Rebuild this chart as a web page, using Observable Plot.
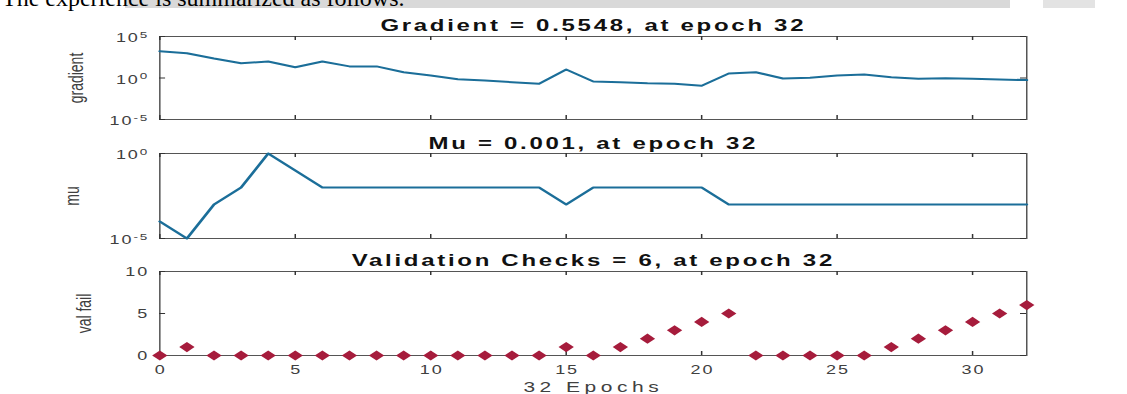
<!DOCTYPE html>
<html>
<head>
<meta charset="utf-8">
<script src="https://cdn.jsdelivr.net/npm/d3@7"></script>
<script src="https://cdn.jsdelivr.net/npm/@observablehq/plot@0.6"></script>
<style>
  body { margin: 0; background: #fff; }
  #page { position: relative; width: 1127px; height: 394px; overflow: hidden; background: #fff; }
  #lead { position: absolute; left: 0; top: 0; }
  .panel { position: absolute; left: 0; width: 751px; transform-origin: 0 0; }
  .panel svg { background: transparent !important; overflow: visible; }
</style>
</head>
<body>
<div id="page">
  <svg id="lead" width="1127" height="12"></svg>
  <div class="panel" id="p1" style="top:0px"></div>
  <div class="panel" id="p2" style="top:128px"></div>
  <div class="panel" id="p3" style="top:246px"></div>
</div>
<script>
// Training record: one entry per epoch
const epochs   = [0,1,2,3,4,5,6,7,8,9,10,11,12,13,14,15,16,17,18,19,20,21,22,23,24,25,26,27,28,29,30,31,32];
const gradient = [1700,980,224,60,98,20,98,25,25,5.0,2.0,0.72,0.50,0.31,0.20,10.5,0.38,0.31,0.23,0.20,0.115,3.5,5.0,0.87,1.05,2.0,2.6,1.26,0.80,0.95,0.80,0.66,0.5548];
const mu       = [1e-4,1e-5,1e-3,1e-2,1,1e-1,1e-2,1e-2,1e-2,1e-2,1e-2,1e-2,1e-2,1e-2,1e-2,1e-3,1e-2,1e-2,1e-2,1e-2,1e-2,1e-3,1e-3,1e-3,1e-3,1e-3,1e-3,1e-3,1e-3,1e-3,1e-3,1e-3,1e-3];
const valFail  = [0,1,0,0,0,0,0,0,0,0,0,0,0,0,0,1,0,1,2,3,4,5,0,0,0,0,0,1,2,3,4,5,6];

// Axis ticks
const xTicks    = [0,5,10,15,20,25,30];
const gradTicks = [1e-5,1e0,1e5];
const muTicks   = [1e-5,1e0];
const failTicks = [0,5,10];

// Texts
const last = epochs.length - 1;
const gradTitle = `Gradient = ${gradient[last]}, at epoch ${epochs[last]}`;
const muTitle   = `Mu = ${mu[last]}, at epoch ${epochs[last]}`;
const failTitle = `Validation Checks = ${valFail[last]}, at epoch ${epochs[last]}`;
const xLabel    = `${epochs[last]} Epochs`;
const gradLabel = "gradient";
const muLabel   = "mu";
const failLabel = "val fail";
const leadText  = "The experience is summarized as follows.";

const rows = epochs.map((e, i) => ({epoch: e, gradient: gradient[i], mu: mu[i], fail: valFail[i]}));

// Page text line above the figure
const lead = d3.select("#lead");
lead.append("rect").attr("x", 125).attr("y", 0).attr("width", 885).attr("height", 8).attr("fill", "#d9d9d9");
lead.append("rect").attr("x", 1043).attr("y", 0).attr("width", 52).attr("height", 8).attr("fill", "#e3e3e3");
lead.append("text").attr("x", 2).attr("y", 6)
  .attr("font-family", "'Liberation Serif', serif").attr("font-size", 24).attr("fill", "#000")
  .text(leadText);

// The figure is drawn narrow and widened horizontally
const W = 751, S = 1127 / W;
const ML = 106, MR = 67.3;
const innerW = W - ML - MR;
const lineColor = "#1b6e99";
const dotColor = "#a61c3c";
const inkColor = "#404040";
const tickLen = 4;

function boxTicks(innerH, yTicks) {
  return [
    Plot.ruleX(xTicks, {x: d => d, insetBottom: innerH - tickLen, stroke: "#333"}),
    Plot.ruleX(xTicks, {x: d => d, insetTop: innerH - tickLen, stroke: "#333"}),
    Plot.ruleY(yTicks, {y: d => d, insetRight: innerW - tickLen, stroke: "#333"}),
    Plot.ruleY(yTicks, {y: d => d, insetLeft: innerW - tickLen, stroke: "#333"})
  ];
}

function title(t, dy) {
  return Plot.text([t], {text: d => d, frameAnchor: "top", dy, lineAnchor: "bottom",
    fontWeight: "bold", fontSize: 16, fill: "#111"});
}

function yLabel(t, dx) {
  return Plot.text([t], {text: d => d, frameAnchor: "left", dx, rotate: -90,
    lineAnchor: "bottom", textAnchor: "middle", fontSize: 14, fill: inkColor});
}

function logAxis(ticks, dy) {
  return Plot.axisY(ticks, {tickSize: 0, tickPadding: 7, fontSize: 12, fill: inkColor, dy,
    label: null, tickFormat: d => String(Math.round(Math.log10(d))).replace("−", "-")});
}

function mount(id, svg, spacing) {
  const s = d3.select(svg);
  s.style("font-family", "'Liberation Sans', Arial, sans-serif");
  s.selectAll("text").style("letter-spacing", "1.3px");
  for (const [t, px] of spacing) {
    s.selectAll("text").filter(function() { return this.textContent === t; }).style("letter-spacing", px + "px");
  }
  const host = document.getElementById(id);
  host.style.transform = `scaleX(${S})`;
  host.appendChild(svg);
}

function powerLabels(svg) {
  d3.select(svg).selectAll('[aria-label="y-axis tick label"] text').each(function() {
    const e = this.textContent;
    this.textContent = "10";
    d3.select(this).append("tspan").attr("dy", "-0.5em").attr("font-size", "9px").text(e);
  });
}

// Gradient panel: frame spans y 36..119 on the page
{
  const height = 130, mt = 36, mb = 11;
  const svg = Plot.plot({
    width: W, height, marginLeft: ML, marginRight: MR, marginTop: mt, marginBottom: mb,
    x: {domain: [0, 32], axis: null},
    y: {type: "log", domain: [1e-5, 1e5], axis: null},
    marks: [
      Plot.frame({stroke: "#555"}),
      ...boxTicks(height - mt - mb, gradTicks),
      Plot.line(rows, {x: "epoch", y: "gradient", stroke: lineColor, strokeWidth: 2}),
      logAxis(gradTicks, 2),
      title(gradTitle, -6),
      yLabel(gradLabel, -51)
    ]
  });
  powerLabels(svg);
  mount("p1", svg, [[gradTitle, 1.8], [gradLabel, 0]]);
}

// Mu panel: frame spans y 153..238 on the page
{
  const height = 120, mt = 25, mb = 10;
  const svg = Plot.plot({
    width: W, height, marginLeft: ML, marginRight: MR, marginTop: mt, marginBottom: mb,
    x: {domain: [0, 32], axis: null},
    y: {type: "log", domain: [1e-5, 1e0], axis: null},
    marks: [
      Plot.frame({stroke: "#555"}),
      ...boxTicks(height - mt - mb, muTicks),
      Plot.line(rows, {x: "epoch", y: "mu", stroke: lineColor, strokeWidth: 2}),
      logAxis(muTicks, 2),
      title(muTitle, -5),
      yLabel(muLabel, -54)
    ]
  });
  powerLabels(svg);
  mount("p2", svg, [[muTitle, 1.8], [muLabel, 0]]);
}

// Validation checks panel: frame spans y 271..355 on the page
{
  const height = 148, mt = 25, mb = 39;
  const svg = Plot.plot({
    width: W, height, marginLeft: ML, marginRight: MR, marginTop: mt, marginBottom: mb,
    x: {domain: [0, 32], axis: null},
    y: {domain: [0, 10], axis: null},
    marks: [
      Plot.frame({stroke: "#555"}),
      ...boxTicks(height - mt - mb, failTicks),
      Plot.dot(rows, {x: "epoch", y: "fail", symbol: "diamond2", r: 4.6, fill: dotColor, stroke: "none"}),
      Plot.axisY(failTicks, {tickSize: 0, tickPadding: 7, fontSize: 12, fill: inkColor, dy: 1, label: null}),
      Plot.axisX(xTicks, {tickSize: 0, tickPadding: 10, fontSize: 12, fill: inkColor, dx: 0.6, label: null}),
      Plot.text([xLabel], {text: d => d, frameAnchor: "bottom", dy: 36, lineAnchor: "bottom",
        fontSize: 14, fill: inkColor}),
      title(failTitle, -6),
      yLabel(failLabel, -46)
    ]
  });
  mount("p3", svg, [[failTitle, 1.8], [xLabel, 3], [failLabel, 0]]);
}
</script>
</body>
</html>
